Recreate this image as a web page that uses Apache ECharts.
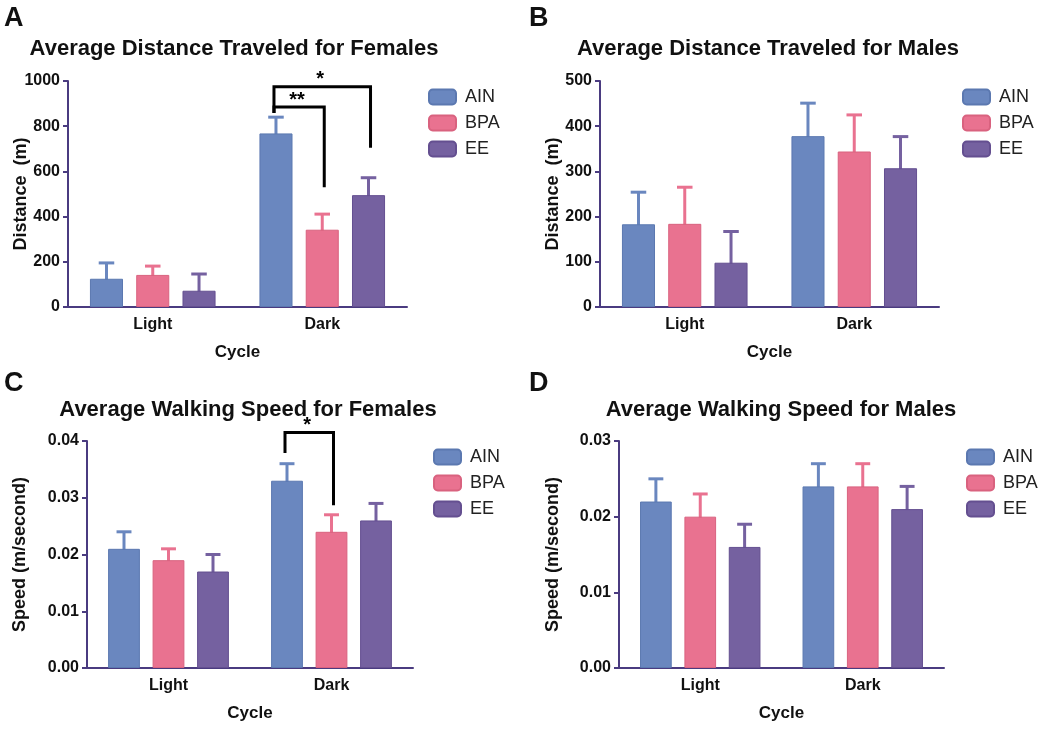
<!DOCTYPE html>
<html>
<head>
<meta charset="utf-8">
<script src="https://cdn.jsdelivr.net/npm/echarts@6/dist/echarts.min.js"></script>
<style>
html,body{margin:0;padding:0;background:#fff;}
#chart{width:1050px;height:731px;}
</style>
</head>
<body>
<div id="chart"></div>
<script>
// ---------- data ----------
const categories = ['Light', 'Dark'];
const groups = ['AIN', 'BPA', 'EE'];

// Panel A: Average Distance Traveled for Females (m)
const distFemaleMean = { AIN: [125, 768], BPA: [142, 342], EE: [72, 495] };
const distFemaleUpper = { AIN: [195, 840], BPA: [181, 411], EE: [146, 572] };
// Panel B: Average Distance Traveled for Males (m)
const distMaleMean = { AIN: [183, 378], BPA: [184, 344], EE: [98, 307] };
const distMaleUpper = { AIN: [254, 451], BPA: [265, 425], EE: [167, 377] };
// Panel C: Average Walking Speed for Females (m/second)
const speedFemaleMean = { AIN: [0.021, 0.033], BPA: [0.019, 0.024], EE: [0.017, 0.026] };
const speedFemaleUpper = { AIN: [0.024, 0.036], BPA: [0.021, 0.027], EE: [0.020, 0.029] };
// Panel D: Average Walking Speed for Males (m/second)
const speedMaleMean = { AIN: [0.022, 0.024], BPA: [0.020, 0.024], EE: [0.016, 0.021] };
const speedMaleUpper = { AIN: [0.025, 0.027], BPA: [0.023, 0.027], EE: [0.019, 0.024] };

// significance brackets: category index, from group, to group, top value, left end, right end, label
const bracketsA = [
  [1, 0, 2, 975, 858, 705, '*'],
  [1, 0, 1, 885, 858, 530, '**']
];
const bracketsC = [
  [1, 0, 1, 0.0415, 0.0379, 0.0287, '*']
];

// axis ticks [min, max, interval]
const yTicksA = [0, 1000, 200];
const yTicksB = [0, 500, 100];
const yTicksC = [0, 0.04, 0.01];
const yTicksD = [0, 0.03, 0.01];

const titles = [
  'Average Distance Traveled for Females',
  'Average Distance Traveled for Males',
  'Average Walking Speed for Females',
  'Average Walking Speed for Males'
];
const panelLetters = ['A', 'B', 'C', 'D'];
const yNames = ['Distance  (m)', 'Distance  (m)', 'Speed (m/second)', 'Speed (m/second)'];
const xName = 'Cycle';

// ---------- styles ----------
const colors = { AIN: '#6a87bf', BPA: '#e97290', EE: '#7561a0' };
const borders = { AIN: '#5b78b0', BPA: '#d9627f', EE: '#644f90' };
const axisColor = '#4a3b80';
const FONT = '"Liberation Sans", Arial, sans-serif';
const BAR_W = 0.195, BAR_GAP = 0.4;

const grids = [
  { left: 68, top: 81, width: 339, height: 226 },
  { left: 600, top: 81, width: 339, height: 226 },
  { left: 87, top: 441, width: 326, height: 227 },
  { left: 619, top: 441, width: 325, height: 227 }
];
const titlePos = [[234, 38], [768, 38], [248, 399], [781, 399]];
const letterPos = [[4, 5], [529, 5], [4, 370], [529, 370]];
const legendPos = [[428, 88], [962, 88], [433, 448], [966, 448]];
const yNameGap = [38, 38, 58, 57];
const fmt = [v => v, v => v, v => v.toFixed(2), v => v.toFixed(2)];

const panels = [
  [distFemaleMean, distFemaleUpper, yTicksA, bracketsA],
  [distMaleMean, distMaleUpper, yTicksB, []],
  [speedFemaleMean, speedFemaleUpper, yTicksC, bracketsC],
  [speedMaleMean, speedMaleUpper, yTicksD, []]
];

function barCenterOffset(band, k) {
  const bw = band * BAR_W;
  const gap = bw * BAR_GAP;
  return (k - 1) * (bw + gap);
}

const option = {
  animation: false,
  backgroundColor: '#fff',
  textStyle: { fontFamily: FONT },
  title: [],
  legend: [],
  grid: [],
  xAxis: [],
  yAxis: [],
  series: []
};

panels.forEach((p, i) => {
  const [mean, upper, ticks, brackets] = p;
  option.grid.push(Object.assign({ containLabel: false }, grids[i]));
  option.title.push({
    text: titles[i], left: titlePos[i][0], top: titlePos[i][1], textAlign: 'center', padding: 0,
    textStyle: { fontFamily: FONT, fontWeight: 'bold', fontSize: 22, color: '#111' }
  });
  option.title.push({
    text: panelLetters[i], left: letterPos[i][0], top: letterPos[i][1], padding: 0,
    textStyle: { fontFamily: FONT, fontWeight: 'bold', fontSize: 27, color: '#111' }
  });
  option.legend.push({
    data: groups, orient: 'vertical', left: legendPos[i][0], top: legendPos[i][1],
    padding: 0, itemWidth: 27, itemHeight: 15, itemGap: 8, icon: 'roundRect',
    textStyle: { fontFamily: FONT, fontSize: 18, color: '#222', padding: [0, 0, 0, 4] },
    selectedMode: false
  });
  option.xAxis.push({
    type: 'category', gridIndex: i, data: categories,
    name: xName, nameLocation: 'middle', nameGap: 37, nameMoveOverlap: false,
    nameTextStyle: { fontFamily: FONT, fontWeight: 'bold', fontSize: 17, color: '#111' },
    axisLine: { lineStyle: { color: axisColor, width: 2 } },
    axisTick: { alignWithLabel: true, length: 5, lineStyle: { color: axisColor, width: 2 } },
    axisLabel: { fontFamily: FONT, fontWeight: 'bold', fontSize: 16, color: '#111', margin: 10 },
    splitLine: { show: false }
  });
  option.yAxis.push({
    type: 'value', gridIndex: i, min: ticks[0], max: ticks[1], interval: ticks[2],
    name: yNames[i], nameLocation: 'middle', nameGap: yNameGap[i], nameRotate: 90, nameMoveOverlap: false,
    nameTextStyle: { fontFamily: FONT, fontWeight: 'bold', fontSize: 18, color: '#111' },
    axisLine: { show: true, lineStyle: { color: axisColor, width: 2 } },
    axisTick: { show: true, length: 5, lineStyle: { color: axisColor, width: 2 } },
    axisLabel: { fontFamily: FONT, fontWeight: 'bold', fontSize: 16, color: '#111', margin: 8, formatter: fmt[i] },
    splitLine: { show: false }
  });
  groups.forEach((g, k) => {
    option.series.push({
      type: 'bar', name: g, xAxisIndex: i, yAxisIndex: i,
      data: mean[g], barWidth: (BAR_W * 100) + '%', barGap: (BAR_GAP * 100) + '%',
      itemStyle: { color: colors[g], borderColor: borders[g], borderWidth: 1 },
      z: 2
    });
  });
  groups.forEach((g, k) => {
    option.series.push({
      type: 'custom', name: g + '-err', xAxisIndex: i, yAxisIndex: i, z: 1,
      data: categories.map((c, ci) => [ci, mean[g][ci], upper[g][ci]]),
      renderItem: function (params, api) {
        const ci = api.value(0);
        const base = api.coord([ci, api.value(1)]);
        const top = api.coord([ci, api.value(2)]);
        const band = api.size([1, 0])[0];
        const x = base[0] + barCenterOffset(band, k);
        const cap = band * BAR_W * 0.47;
        const st = { stroke: colors[g], lineWidth: 3 };
        return {
          type: 'group', children: [
            { type: 'line', shape: { x1: x, y1: base[1] + 2, x2: x, y2: top[1] }, style: st },
            { type: 'line', shape: { x1: x - cap / 2, y1: top[1], x2: x + cap / 2, y2: top[1] }, style: st }
          ]
        };
      }
    });
  });
  if (brackets.length) {
    option.series.push({
      type: 'custom', name: 'sig', xAxisIndex: i, yAxisIndex: i, z: 5, clip: false,
      data: brackets.map(b => b.slice(0, 6)),
      renderItem: function (params, api) {
        const ci = api.value(0);
        const band = api.size([1, 0])[0];
        const c0 = api.coord([ci, api.value(3)]);
        const xl = c0[0] + barCenterOffset(band, api.value(1)) - 2;
        const xr = c0[0] + barCenterOffset(band, api.value(2)) + 2;
        const yt = c0[1];
        const yl = api.coord([ci, api.value(4)])[1];
        const yr = api.coord([ci, api.value(5)])[1];
        const st = { stroke: '#000', lineWidth: 3, fill: null, lineJoin: 'miter' };
        return {
          type: 'group', children: [
            { type: 'polyline', shape: { points: [[xl, yl], [xl, yt], [xr, yt], [xr, yr]] }, style: st },
            { type: 'text', x: (xl + xr) / 2 - 2, y: yt + 3,
              style: { text: brackets[params.dataIndex][6], textAlign: 'center', textVerticalAlign: 'bottom',
                       font: 'bold 20px ' + FONT, fill: '#000' } }
          ]
        };
      }
    });
  }
});

const chart = echarts.init(document.getElementById('chart'), null, { renderer: 'canvas' });
chart.setOption(option);
</script>
</body>
</html>
